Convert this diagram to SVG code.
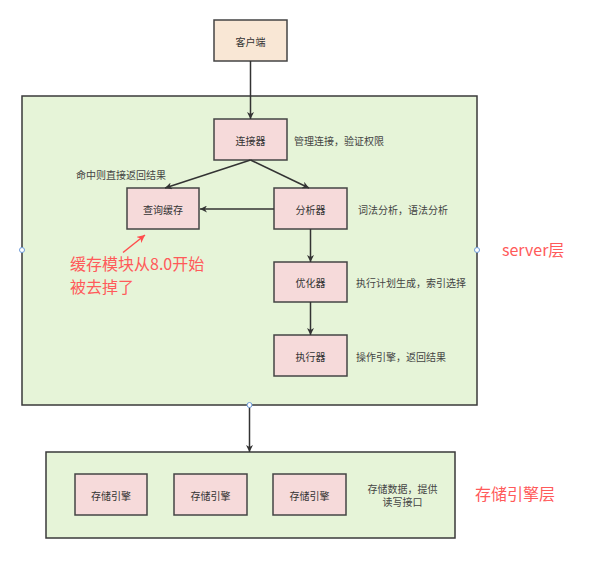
<svg xmlns="http://www.w3.org/2000/svg" width="609" height="571" viewBox="0 0 609 571">
<style>
.layer{fill:#e6f4d8;stroke:#3a3a3a;stroke-width:1.5}
.node{fill:#f6dada;stroke:#444;stroke-width:1.5}
.client{fill:#f9e7d5;stroke:#444;stroke-width:1.5}
.lbl{font-family:"Noto Sans CJK SC","Liberation Sans",sans-serif;font-size:10px;fill:#333;text-anchor:middle;dominant-baseline:central}
.note{font-family:"Noto Sans CJK SC","Liberation Sans",sans-serif;font-size:10px;fill:#444;dominant-baseline:central}
.red{font-family:"Noto Sans CJK SC","Liberation Sans",sans-serif;font-size:16px;fill:#ff5a5a}
.edge{stroke:#333;stroke-width:1.5;fill:none;marker-end:url(#ah)}
.handle{fill:#fff;stroke:#6c9bd9;stroke-width:1}
</style>
<defs>
<marker id="ah" viewBox="0 0 10 10" refX="10" refY="5" markerWidth="7" markerHeight="7" markerUnits="userSpaceOnUse" orient="auto">
<path d="M0,0 L10,5 L0,10 L3,5 z" fill="#333"/>
</marker>
<marker id="rh" viewBox="0 0 10 10" refX="10" refY="5" markerWidth="8" markerHeight="8" markerUnits="userSpaceOnUse" orient="auto">
<path d="M0,0 L10,5 L0,10 L3,5 z" fill="#ff4d4d"/>
</marker>
</defs>
<rect width="609" height="571" fill="#fff"/>

<g id="server-layer">
<rect class="layer" x="22" y="96" width="455" height="309"/>
<text class="red" x="502" y="256">server层</text>
</g>
<g id="storage-layer">
<rect class="layer" x="46" y="452" width="409" height="86"/>
<text class="red" x="475" y="500">存储引擎层</text>
<text class="note" x="402.5" y="488" text-anchor="middle">存储数据，提供</text>
<text class="note" x="402.5" y="501.5" text-anchor="middle">读写接口</text>
</g>

<g id="client">
<rect class="client" x="214" y="20" width="73" height="41"/>
<text class="lbl" x="250.5" y="41">客户端</text>
</g>
<g id="connector">
<rect class="node" x="214" y="119" width="73" height="41"/>
<text class="lbl" x="250.5" y="140">连接器</text>
<text class="note" x="294" y="140">管理连接，验证权限</text>
</g>
<g id="query-cache">
<rect class="node" x="127" y="188" width="72" height="41"/>
<text class="lbl" x="163" y="209">查询缓存</text>
<text class="note" x="76" y="174">命中则直接返回结果</text>
</g>
<g id="analyzer">
<rect class="node" x="274" y="188" width="73" height="41"/>
<text class="lbl" x="310.5" y="209">分析器</text>
<text class="note" x="358" y="209">词法分析，语法分析</text>
</g>
<g id="optimizer">
<rect class="node" x="274" y="262" width="73" height="40"/>
<text class="lbl" x="310.5" y="282">优化器</text>
<text class="note" x="356" y="282">执行计划生成，索引选择</text>
</g>
<g id="executor">
<rect class="node" x="274" y="335" width="73" height="41"/>
<text class="lbl" x="310.5" y="356">执行器</text>
<text class="note" x="356" y="356">操作引擎，返回结果</text>
</g>
<g id="engine1">
<rect class="node" x="75" y="474" width="72" height="41"/>
<text class="lbl" x="111" y="495">存储引擎</text>
</g>
<g id="engine2">
<rect class="node" x="174" y="474" width="73" height="41"/>
<text class="lbl" x="210.5" y="495">存储引擎</text>
</g>
<g id="engine3">
<rect class="node" x="273" y="474" width="73" height="41"/>
<text class="lbl" x="309.5" y="495">存储引擎</text>
</g>

<g id="connectors">
<line class="edge" x1="250.5" y1="61" x2="250.5" y2="119"/>
<line class="edge" x1="250.5" y1="160" x2="165" y2="188"/>
<line class="edge" x1="250.5" y1="160" x2="309" y2="188"/>
<line class="edge" x1="274" y1="209" x2="200" y2="209"/>
<line class="edge" x1="310.5" y1="229" x2="310.5" y2="262"/>
<line class="edge" x1="310.5" y1="302" x2="310.5" y2="335"/>
<line class="edge" x1="249.5" y1="405" x2="249.5" y2="452"/>
</g>

<g id="annotation">
<line x1="123" y1="252.5" x2="145" y2="235" stroke="#ff4d4d" stroke-width="1.5" marker-end="url(#rh)"/>
<text class="red" x="70" y="270">缓存模块从8.0开始</text>
<text class="red" x="70" y="292.5">被去掉了</text>
</g>

<g id="handles">
<circle class="handle" cx="22" cy="250" r="2.5"/>
<circle class="handle" cx="477" cy="250" r="2.5"/>
<circle class="handle" cx="249.5" cy="405" r="2.5"/>
</g>
</svg>
